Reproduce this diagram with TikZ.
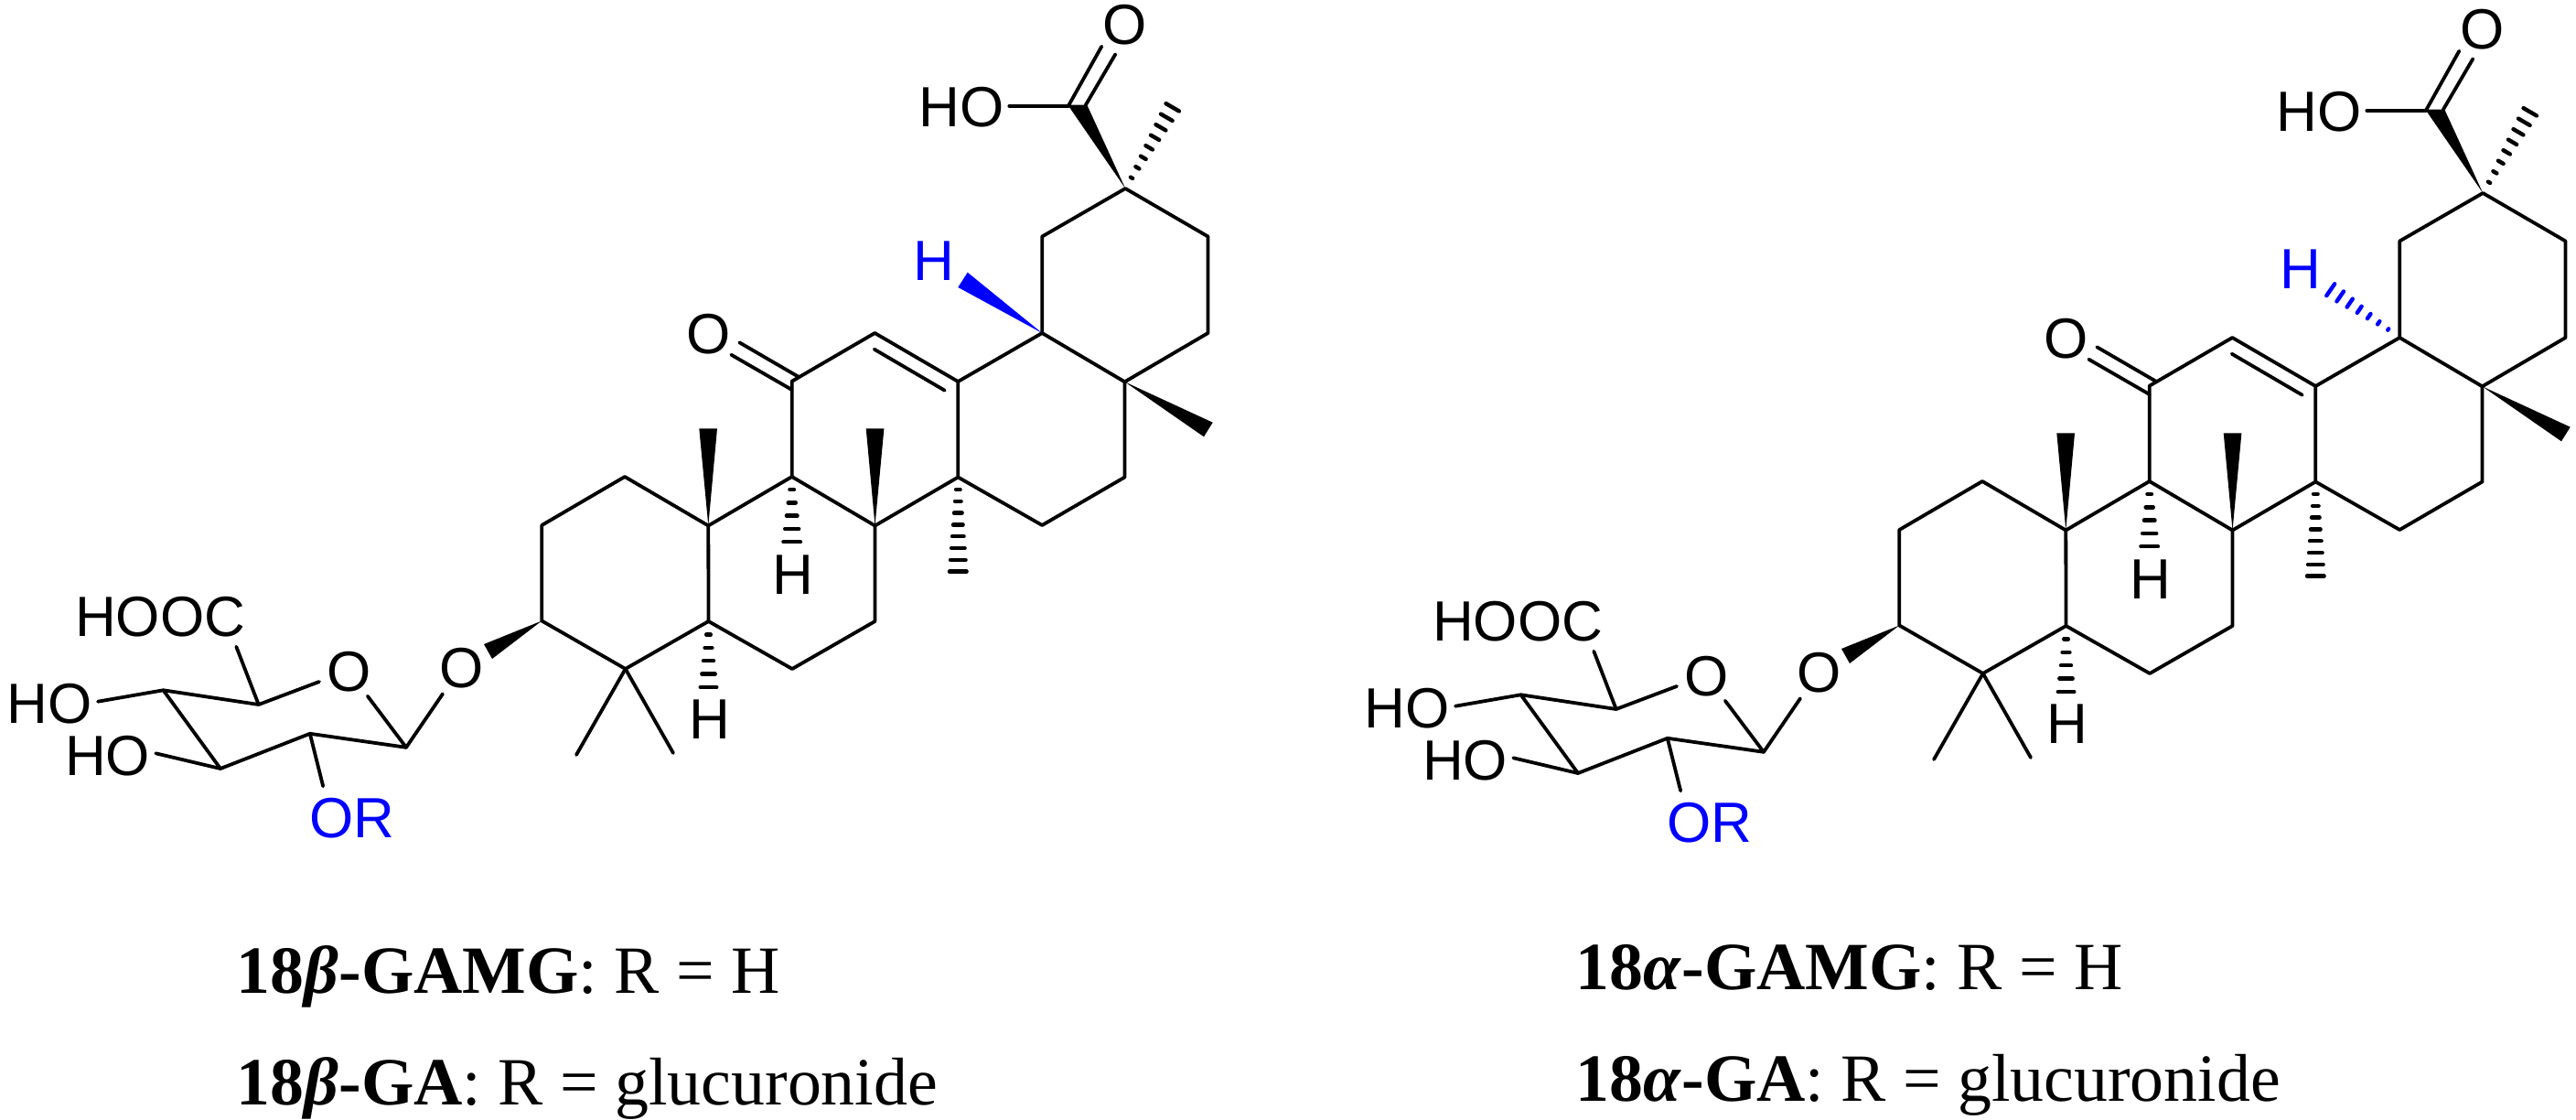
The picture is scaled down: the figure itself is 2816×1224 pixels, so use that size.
\documentclass[tikz,border=0pt]{standalone}
\usepackage{fontspec}
\setmainfont{Liberation Serif}
\newfontfamily\chemfont{Liberation Sans}
\usetikzlibrary{calc}
\definecolor{hblue}{RGB}{0,0,255}
\tikzset{
  bond/.style={line width=1.9pt,line cap=round,line join=round},
  atom/.style={font=\chemfont\fontsize{31}{33}\selectfont,inner sep=0pt,anchor=center},
  caption/.style={font=\fontsize{36.9}{40}\selectfont,inner sep=0pt,anchor=base west},
}
% tip and the two corners of the wide end
\newcommand{\wedgebond}[4][black]{%
  \fill[#1] (#2) -- (#3) -- (#4) -- cycle;}
% colour, first, last, number, first width, last width (px, caps included)
\newcommand{\hashbond}[6][black]{%
  \coordinate (hfar) at ($(#2)!2!(#3)$);
  \foreach \i in {1,...,#4}{%
    \pgfmathsetmacro\hfrac{(\i-1)/(#4-1)}%
    \pgfmathsetmacro\hhalf{max((#5+(#6-#5)*\hfrac)*0.25-1.1,0.05)}%
    \coordinate (hc) at ($(#2)!\hfrac!(#3)$);
    \draw[#1,line width=2.2pt,line cap=round] ($(hc)!\hhalf pt!90:(hfar)$) -- ($(hc)!\hhalf pt!-90:(hfar)$);
  }}
% common skeleton
\newcommand{\molecule}{%
  \coordinate (c1) at (1230.2,206);
  \coordinate (c2) at (1139.2,258.5);
  \coordinate (c3) at (1320.5,258.5);
  \coordinate (c4) at (1139.2,364);
  \coordinate (c5) at (1320.5,364);
  \coordinate (c6) at (1229.5,417.3);
  \coordinate (c7) at (1047.3,417);
  \coordinate (c8) at (956.3,364);
  \coordinate (c9) at (865.7,416.7);
  \coordinate (c10) at (865.7,521);
  \coordinate (c11) at (1047.3,521.5);
  \coordinate (c12) at (1229.5,521.5);
  \coordinate (c13) at (1139.2,574);
  \coordinate (c14) at (956.5,574.5);
  \coordinate (c15) at (774.3,574.5);
  \coordinate (c16) at (683,521);
  \coordinate (c17) at (592.3,574);
  \coordinate (c18) at (592.3,678.5);
  \coordinate (c19) at (774.5,679);
  \coordinate (c20) at (683.7,731);
  \coordinate (c21) at (956.5,679);
  \coordinate (c22) at (866,731);
  \coordinate (m1) at (630,825);
  \coordinate (m2) at (736,823);
  \coordinate (ca) at (1168,115.7);
  \coordinate (cah) at (1103.3,115.7);
  \coordinate (s1) at (178.5,754.3);
  \coordinate (s2) at (282.7,770);
  \coordinate (s3) at (444,816.8);
  \coordinate (s4) at (338.8,801.8);
  \coordinate (s5) at (241,840);
  \node[atom] (oa) at (1230,26.7) {O};
  \node[atom] (hoa) at (1051,117) {HO};
  \node[atom] (ok) at (774.3,365) {O};
  \node[atom] (h1) at (866.7,628.3) {H};
  \node[atom] (h2) at (775.5,786) {H};
  \node[atom] (o1) at (505,730) {O};
  \node[atom] (o2) at (381.6,734.3) {O};
  \node[atom] (hooc) at (175,674) {HOOC};
  \node[atom] (ho1) at (54.3,769) {HO};
  \node[atom] (ho2) at (117.5,826) {HO};
  \node[atom,text=hblue] (orr) at (385,894) {OR};
  \draw[bond] (c1) -- (c2) -- (c4) -- (c6) -- (c5) -- (c3) -- (c1);
  \draw[bond] (c4) -- (c7) -- (c8) -- (c9) -- (c10) -- (c14) -- (c11) -- (c7);
  \draw[bond] (c6) -- (c12) -- (c13) -- (c11);
  \draw[bond] (c10) -- (c15) -- (c16) -- (c17) -- (c18) -- (c20) -- (c19) -- (c15);
  \draw[bond] (c19) -- (c22) -- (c21) -- (c14);
  \draw[bond] (c20) -- (m1);
  \draw[bond] (c20) -- (m2);
  % double bonds
  \draw[bond] (955.7,381.7) -- (1032.7,426.7);
  \draw[bond] (799.3,387.7) -- (865.7,426);
  \draw[bond] (808.3,374.3) -- (872.7,411.7);
  \draw[bond] (1168.3,115) -- (1204.3,50.7);
  \draw[bond] (1186.7,115) -- (1219.3,59.3);
  \draw[bond] (cah) -- (ca);
  % stereo bonds
  \wedgebond{c1}{1167.3,114.7}{1188.3,114.7}
  \hashbond{1237,194.3}{1281.7,117.3}{8}{7}{21}
  \wedgebond{c6}{1325.7,461.7}{1316,477.3}
  \wedgebond{c15}{764.3,468.3}{784,468.3}
  \wedgebond{c14}{946.7,468.3}{966.4,468.3}
  \hashbond{865.7,535}{865.7,592.3}{5}{9}{23}
  \hashbond{1047.3,535}{1047.3,624.7}{8}{9}{23}
  \hashbond{774.5,693.5}{774.5,751}{5}{9}{22}
  \wedgebond{c18}{529,704}{538,720}
  % sugar
  \draw[bond] (258.3,706.7) -- (s2) -- (349,745);
  \draw[bond] (401.8,760.7) -- (s3) -- (484,758.3);
  \draw[bond] (s3) -- (s4) -- (s5) -- (s1) -- (s2);
  \draw[bond] (107,766.7) -- (s1);
  \draw[bond] (170.3,823.3) -- (s5);
  \draw[bond] (s4) -- (353.2,859.3);
}
\begin{document}
\begin{tikzpicture}[x=0.5pt,y=-0.5pt]
  \useasboundingbox (0,0) rectangle (2816,1224);
  \begin{scope}
    \molecule
    \node[atom,text=hblue] (hb) at (1021,285) {H};
    \wedgebond[hblue]{c4}{1057.7,297.7}{1047.3,314}
  \end{scope}
  \begin{scope}[shift={(1484,5)}]
    \molecule
    \node[atom,text=hblue] (hb) at (1031,289) {H};
    \hashbond[hblue]{1126.7,355}{1063.7,311.7}{7}{6}{20}
  \end{scope}
  \node[caption] (t1) at (258.5,1085.5) {\textbf{18\textit{β}-GAMG}: R = H};
  \node[caption] (t2) at (258.5,1207) {\textbf{18\textit{β}-GA}: R = glucuronide};
  \node[caption] (t3) at (1722.5,1081) {\textbf{18\textit{α}-GAMG}: R = H};
  \node[caption] (t4) at (1722.5,1203) {\textbf{18\textit{α}-GA}: R = glucuronide};
\end{tikzpicture}
\end{document}
